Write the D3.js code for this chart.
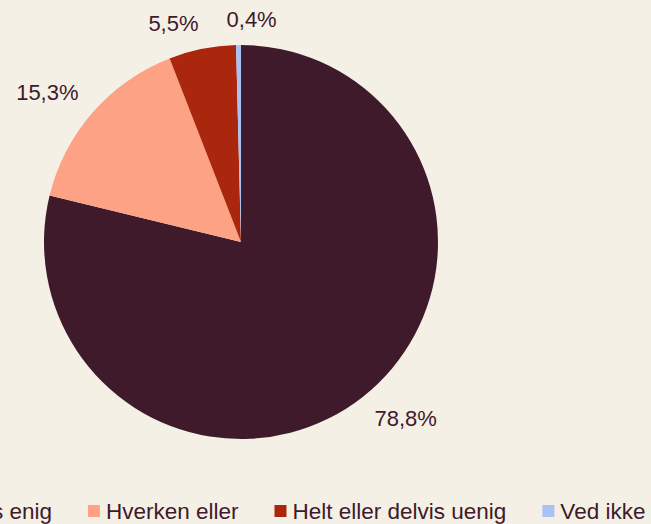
<!DOCTYPE html>
<html>
<head>
<meta charset="utf-8">
<script src="https://cdn.jsdelivr.net/npm/d3@7"></script>
<style>
    html, body { margin: 0; padding: 0; background: #f5f0e6; overflow: hidden; }
    svg { display: block; font-family: "Liberation Sans", Arial, sans-serif; }
</style>
</head>
<body>
<svg width="651" height="524"></svg>
<script>
// data
const categories = ["Helt eller delvis enig", "Hverken eller", "Helt eller delvis uenig", "Ved ikke"];
const values = [78.8, 15.3, 5.5, 0.4];
const colors = ["#3e1a2b", "#fda284", "#aa270d", "#a8c2f6"];

const textColor = "#3e1a2b";
const fmt = v => d3.format(".1f")(v).replace(".", ",") + "%";

const svg = d3.select("svg");
const cx = 241, cy = 242, radius = 197;

let slices = categories.map((c, i) => ({ name: c, value: values[i], color: colors[i] }));

const pie = d3.pie().value(d => d.value).sort(null);
const arc = d3.arc().innerRadius(0).outerRadius(radius);
const arcs = pie(slices);

const g = svg.append("g").attr("transform", `translate(${cx}, ${cy})`);

g.selectAll("path")
    .data(arcs)
    .enter()
    .append("path")
    .attr("d", arc)
    .attr("fill", d => d.data.color);

// labels: nearest corner of the label box sits just outside the edge
const labels = g.selectAll(".lbl")
    .data(arcs)
    .enter()
    .append("text")
    .attr("class", "lbl")
    .style("font-size", "22px")
    .style("fill", textColor)
    .attr("dominant-baseline", "central")
    .attr("text-anchor", "middle")
    .text(d => fmt(d.data.value));

let boxes = [];
labels.each(function(d) {
    const a = (d.startAngle + d.endAngle) / 2;
    const w = this.getComputedTextLength();
    const h = 14;
    const r = radius + 19;
    const px = Math.sin(a) * r, py = -Math.cos(a) * r;
    const x = px + Math.sign(Math.sin(a)) * w / 2;
    const y = py - Math.sign(Math.cos(a)) * h / 2;
    boxes.push({ node: this, x: x, y: y, w: w, h: h });
});

// push overlapping neighbours apart to the right
for (let i = 1; i < boxes.length; i++) {
    const p = boxes[i - 1], b = boxes[i];
    const minDist = (p.w + b.w) / 2 + 28;
    if (Math.abs(b.y - p.y) < 20 && b.x - p.x < minDist) {
        b.x = p.x + minDist;
    }
}
boxes.forEach(b => d3.select(b.node).attr("x", b.x).attr("y", b.y));

// legend, centered under the pie (wider than the canvas, clipped)
const legend = svg.append("g");
const sw = 12, gapText = 6, gapItem = 36;
let offset = 0;
slices.forEach(d => {
    const item = legend.append("g").attr("transform", `translate(${offset}, 0)`);
    item.append("rect")
        .attr("x", 0).attr("y", -6)
        .attr("width", sw).attr("height", sw)
        .attr("fill", d.color);
    const t = item.append("text")
        .attr("x", sw + gapText)
        .attr("y", 0)
        .attr("dominant-baseline", "central")
        .style("font-size", "22.5px")
        .style("fill", textColor)
        .text(d.name);
    offset += sw + gapText + t.node().getComputedTextLength() + gapItem;
});
const legendWidth = offset - gapItem;
legend.attr("transform", `translate(${cx - legendWidth / 2 - 2}, 511)`);
</script>
</body>
</html>
